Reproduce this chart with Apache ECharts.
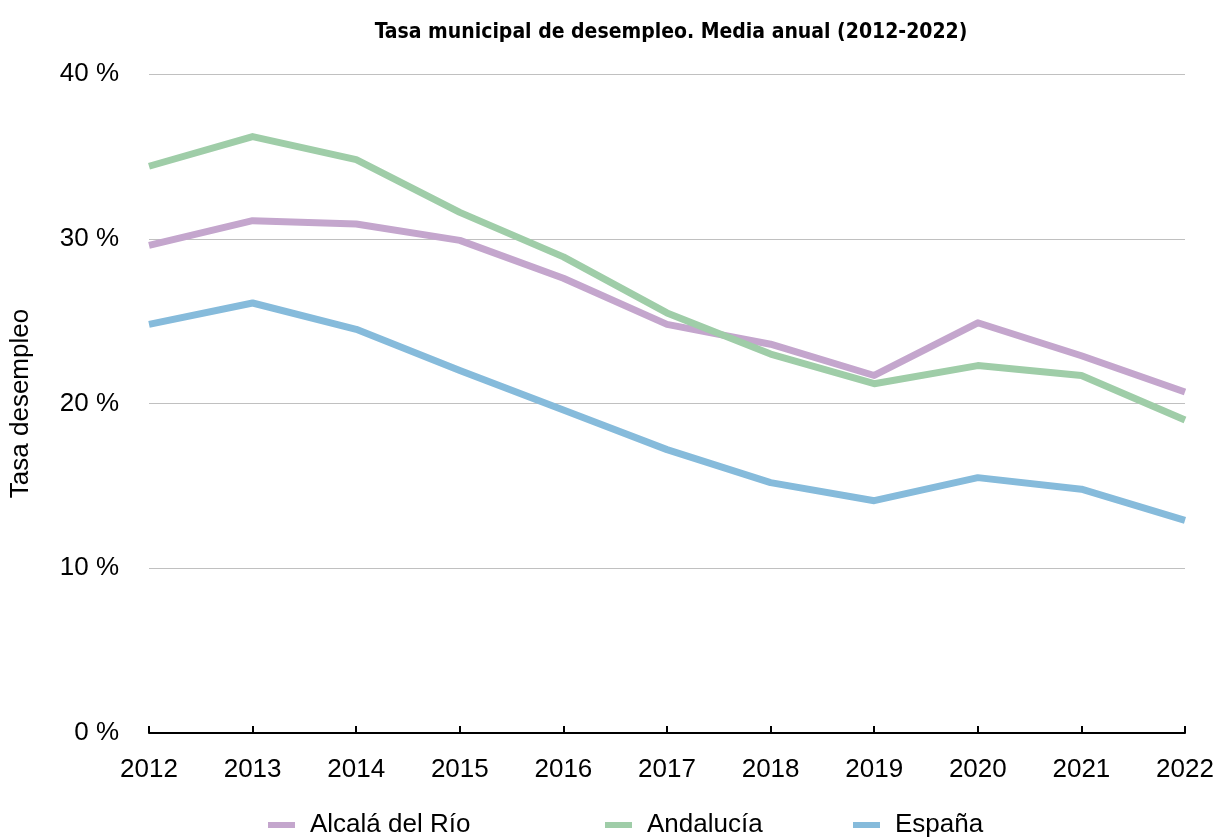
<!DOCTYPE html>
<html>
<head>
<meta charset="utf-8">
<title>Tasa municipal de desempleo</title>
<script src="https://cdn.jsdelivr.net/npm/echarts@6/dist/echarts.min.js"></script>
<style>
  html, body { margin: 0; padding: 0; background: #fff; }
  #chart { width: 1217px; height: 839px; }
</style>
</head>
<body>
<div id="chart"></div>
<script>
// datos (tasa de paro, %)
var years = ['2012', '2013', '2014', '2015', '2016', '2017', '2018', '2019', '2020', '2021', '2022'];
var alcala = [29.6, 31.1, 30.9, 29.9, 27.6, 24.8, 23.6, 21.7, 24.9, 22.9, 20.7];
var andalucia = [34.4, 36.2, 34.8, 31.6, 28.9, 25.5, 23.0, 21.2, 22.3, 21.7, 19.0];
var espana = [24.8, 26.1, 24.5, 22.0, 19.6, 17.2, 15.2, 14.1, 15.5, 14.8, 12.9];
var seriesNames = ['Alcalá del Río', 'Andalucía', 'España'];
var colors = ['#c4a6cd', '#9fcda8', '#86bbdb'];

var font = 'Helvetica, "Liberation Sans", Arial, sans-serif';
var legendLeft = [263, 600, 848];

function makeSeries(name, values, color) {
    return {
        name: name,
        type: 'line',
        data: values,
        showSymbol: false,
        symbol: 'none',
        lineStyle: { width: 7, color: color, join: 'round' },
        itemStyle: { color: color }
    };
}

var legends = [];
for (var i = 0; i < seriesNames.length; i++) {
    legends.push({
        data: [seriesNames[i]],
        left: legendLeft[i],
        top: 807,
        icon: 'rect',
        itemWidth: 27,
        itemHeight: 6,
        itemGap: 0,
        textStyle: { fontFamily: font, fontSize: 26, color: '#000', padding: [0, 0, 0, 10] }
    });
}

var option = {
    animation: false,
    color: colors,
    title: {
        text: 'Tasa municipal de desempleo. Media anual (2012-2022)',
        left: 666,
        textAlign: 'center',
        top: 17,
        textStyle: {
            fontFamily: '"Liberation Sans Narrow", "DejaVu Sans Condensed", sans-serif',
            fontSize: 21,
            fontWeight: 'bold',
            color: '#000'
        }
    },
    legend: legends,
    grid: { left: 148, right: 32, top: 74, bottom: 106, containLabel: false },
    xAxis: {
        type: 'category',
        data: years,
        boundaryGap: false,
        axisLine: { lineStyle: { color: '#000', width: 2 } },
        axisTick: { show: true, inside: true, length: 7, alignWithLabel: true, lineStyle: { color: '#000', width: 2 } },
        axisLabel: { fontFamily: font, fontSize: 26, color: '#000', margin: 24 },
        splitLine: { show: false }
    },
    yAxis: {
        type: 'value',
        min: 0,
        max: 40,
        interval: 10,
        name: 'Tasa desempleo',
        nameLocation: 'middle',
        nameGap: 115,
        nameTextStyle: { fontFamily: font, fontSize: 26, color: '#000' },
        axisLine: { show: false },
        axisTick: { show: false },
        axisLabel: { fontFamily: font, fontSize: 26, color: '#000', margin: 30, formatter: '{value} %' },
        splitLine: { lineStyle: { color: '#c0c0c0', width: 1 } }
    },
    series: [
        makeSeries(seriesNames[0], alcala, colors[0]),
        makeSeries(seriesNames[1], andalucia, colors[1]),
        makeSeries(seriesNames[2], espana, colors[2])
    ]
};

var myChart = echarts.init(document.getElementById('chart'));
myChart.setOption(option);
</script>
</body>
</html>
